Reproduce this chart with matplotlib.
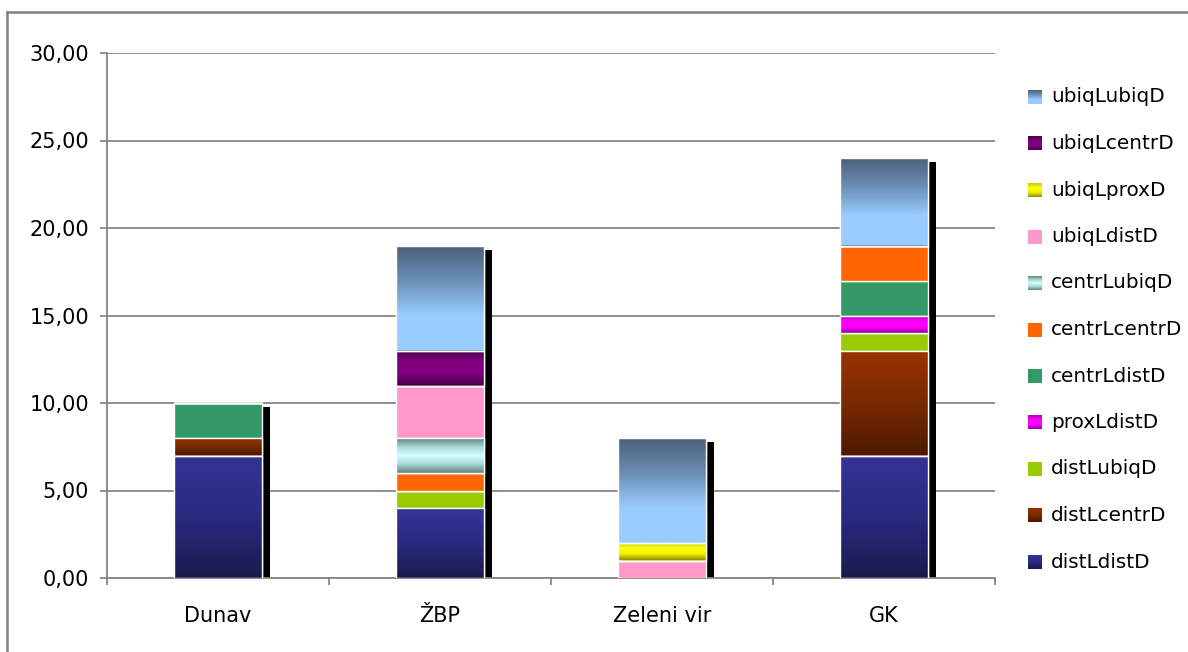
import numpy as np
import matplotlib
matplotlib.use('Agg')
import matplotlib.pyplot as plt
from matplotlib.colors import LinearSegmentedColormap
from matplotlib.patches import Rectangle
from matplotlib.ticker import FuncFormatter, FixedLocator

# data
locations = ['Dunav', 'ŽBP', 'Zeleni vir', 'GK']
series = ['distLdistD', 'distLcentrD', 'distLubiqD', 'proxLdistD', 'centrLdistD',
          'centrLcentrD', 'centrLubiqD', 'ubiqLdistD', 'ubiqLproxD', 'ubiqLcentrD', 'ubiqLubiqD']
distLdistD = [7, 4, 0, 7]
distLcentrD = [1, 0, 0, 6]
distLubiqD = [0, 1, 0, 1]
proxLdistD = [0, 0, 0, 1]
centrLdistD = [2, 0, 0, 2]
centrLcentrD = [0, 1, 0, 2]
centrLubiqD = [0, 2, 0, 0]
ubiqLdistD = [0, 3, 1, 0]
ubiqLproxD = [0, 0, 1, 0]
ubiqLcentrD = [0, 2, 0, 0]
ubiqLubiqD = [0, 6, 6, 5]
values = [distLdistD, distLcentrD, distLubiqD, proxLdistD, centrLdistD, centrLcentrD,
          centrLubiqD, ubiqLdistD, ubiqLproxD, ubiqLcentrD, ubiqLubiqD]

# fill colours, top -> bottom
fills = {
    'distLdistD': ['#343496', '#2a2a80', '#1a1a4f'],
    'distLcentrD': ['#993300', '#7a2a00', '#4d1a00'],
    'distLubiqD': ['#99cc00'],
    'proxLdistD': ['#b000b0', '#ff00ff', '#ff00ff', '#990099'],
    'centrLdistD': ['#339966'],
    'centrLcentrD': ['#ff6600'],
    'centrLubiqD': ['#5f8580', '#a8d8d4', '#d4ffff', '#a8d8d4', '#5f8580'],
    'ubiqLdistD': ['#ff99cc'],
    'ubiqLproxD': ['#c8c820', '#ffff00', '#eeee00', '#8f8f00'],
    'ubiqLcentrD': ['#4a004a', '#800080', '#800080', '#4a004a'],
    'ubiqLubiqD': ['#4b6079', '#6a8fb5', '#99ccff', '#99ccff'],
}

W, H = 1188, 652
fs = 15
fig = plt.figure(figsize=(W / 100, H / 100), dpi=100)
ax = fig.add_axes([107 / W, 1 - 578 / H, (995 - 107) / W, (578 - 53) / H])

x = np.arange(len(locations))
bw = 0.4
grad = np.linspace(0, 1, 64).reshape(-1, 1)

totals = np.sum(values, axis=0)
# black shadow behind each stack
ax.bar(x + 0.032, totals - 0.23, bw, color='black', zorder=2)

bottom = np.zeros(len(locations))
for name, vals in zip(series, values):
    vals = np.array(vals, dtype=float)
    cols = fills[name]
    cmap = LinearSegmentedColormap.from_list(name, cols[::-1]) if len(cols) > 1 else None
    bars = ax.bar(x, vals, bw, bottom=bottom, color=cols[0], edgecolor='white',
                  linewidth=1.0, zorder=3)
    if cmap is not None:
        for b, v, b0, xi in zip(bars, vals, bottom, x):
            if v <= 0:
                continue
            im = ax.imshow(grad, cmap=cmap, extent=[xi - bw / 2, xi + bw / 2, b0, b0 + v],
                           origin='lower', aspect='auto', zorder=3.5, interpolation='bilinear')
            im.set_clip_path(b)
            ax.add_patch(Rectangle((xi - bw / 2, b0), bw, v, facecolor='none',
                                   edgecolor='white', linewidth=1.0, zorder=3.6))
    bottom += vals

ax.set_xlim(-0.5, len(locations) - 0.5)
ax.set_ylim(0, 30)
ax.set_aspect('auto')

gc = '#868686'
ax.yaxis.set_major_locator(FixedLocator(np.arange(0, 31, 5)))
ax.yaxis.set_major_formatter(FuncFormatter(lambda v, p: f'{v:.2f}'.replace('.', ',')))
ax.grid(axis='y', color=gc, linewidth=1.3, zorder=0)
ax.set_axisbelow(True)
for s in ['top', 'right']:
    ax.spines[s].set_visible(False)
for s in ['left', 'bottom']:
    ax.spines[s].set_color(gc)
    ax.spines[s].set_linewidth(1.3)
ax.tick_params(axis='y', length=5, width=1.3, color=gc, labelsize=fs, pad=8)
ax.set_xticks(x)
ax.set_xticklabels(locations)
ax.xaxis.set_minor_locator(FixedLocator(np.arange(-0.5, len(locations), 1)))
ax.tick_params(axis='x', which='major', length=0, labelsize=fs, pad=20)
ax.tick_params(axis='x', which='minor', length=5, width=1.3, color=gc)

# outer chart border (right and bottom edges fall outside the picture)
fig.add_artist(plt.Line2D([7 / W, 7 / W], [0, 1 - 12 / H], color='#808080', linewidth=1.8))
fig.add_artist(plt.Line2D([7 / W, 1], [1 - 12 / H, 1 - 12 / H], color='#808080', linewidth=1.8))

# legend in pixel coordinates
lg = fig.add_axes([0, 0, 1, 1], zorder=5)
lg.patch.set_alpha(0)
y0, dy = 97, 46.5
for i, name in enumerate(series[::-1]):
    yc = y0 + i * dy
    cols = fills[name]
    if len(cols) > 1:
        cmap = LinearSegmentedColormap.from_list(name + 'l', cols[::-1])
        lg.imshow(grad, cmap=cmap, extent=[1028, 1042, yc + 7, yc - 7], origin='lower',
                  aspect='auto', interpolation='bilinear')
    else:
        lg.add_patch(Rectangle((1028, yc - 7), 14, 14, facecolor=cols[0], edgecolor='none'))
    lg.text(1051, yc, name, fontsize=14.4, va='center', ha='left')
lg.set_xlim(0, W)
lg.set_ylim(H, 0)
lg.axis('off')

fig.savefig('out.png', dpi=100)
